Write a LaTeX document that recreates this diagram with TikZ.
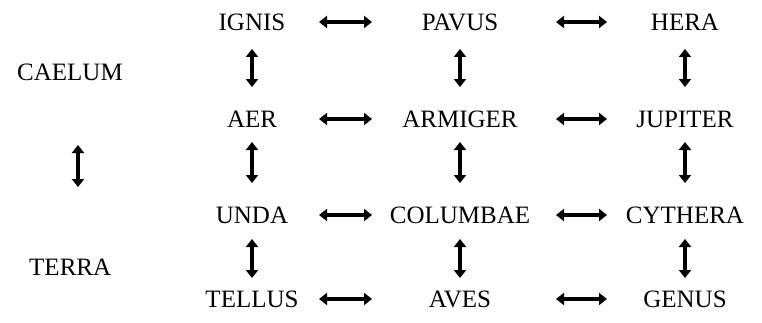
\documentclass[tikz,border=0pt]{standalone}
\usepackage{fontspec}
\setmainfont{Liberation Serif}
\usetikzlibrary{arrows.meta}
\begin{document}
\begin{tikzpicture}[x=1pt,y=1pt,
  word/.style={font=\fontsize{25}{28}\selectfont, inner sep=0pt, anchor=center},
  dbl/.style={line width=3.2pt, {Triangle[length=8pt,width=12pt]}-{Triangle[length=8pt,width=12pt]}}]
\useasboundingbox (0,0) rectangle (762,322);
% columns 252, 460, 685 ; rows y(img) 22,119,215,299
\node[word] (ignis)   at (252,300) {IGNIS};
\node[word] (pavus)   at (460,300) {PAVUS};
\node[word] (hera)    at (685,300) {HERA};
\node[word] (aer)     at (252,203) {AER};
\node[word] (armiger) at (460,203) {ARMIGER};
\node[word] (jupiter) at (685,203) {JUPITER};
\node[word] (unda)    at (252,107) {UNDA};
\node[word] (columbae) at (460,107) {COLUMBAE};
\node[word] (cythera) at (685,107) {CYTHERA};
\node[word] (tellus)  at (252,23) {TELLUS};
\node[word] (aves)    at (460,23) {AVES};
\node[word] (genus)   at (685,23) {GENUS};
\node[word] (caelum)  at (70,250) {CAELUM};
\node[word, anchor=west] (terra) at (29,55) {TERRA};
% horizontal connectors
\foreach \a/\b in {ignis/pavus, aer/armiger, unda/columbae, tellus/aves}
  \draw[dbl, shorten <=67pt, shorten >=88pt] (\a.center) -- (\b.center);
\foreach \a/\b in {pavus/hera, armiger/jupiter, columbae/cythera, aves/genus}
  \draw[dbl, shorten <=96pt, shorten >=78pt] (\a.center) -- (\b.center);
% vertical connectors
\foreach \a/\b in {ignis/aer, pavus/armiger, hera/jupiter}
  \draw[dbl, shorten <=27pt, shorten >=32pt] (\a.center) -- (\b.center);
\foreach \a/\b in {aer/unda, armiger/columbae, jupiter/cythera}
  \draw[dbl, shorten <=23pt, shorten >=32pt] (\a.center) -- (\b.center);
\foreach \a/\b in {unda/tellus, columbae/aves, cythera/genus}
  \draw[dbl, shorten <=24pt, shorten >=21pt] (\a.center) -- (\b.center);
% left connector
\draw[dbl, shorten <=73pt, shorten >=80pt] ([xshift=8pt]caelum.center) -- ([xshift=8pt]caelum.center |- terra.center);
\end{tikzpicture}
\end{document}
